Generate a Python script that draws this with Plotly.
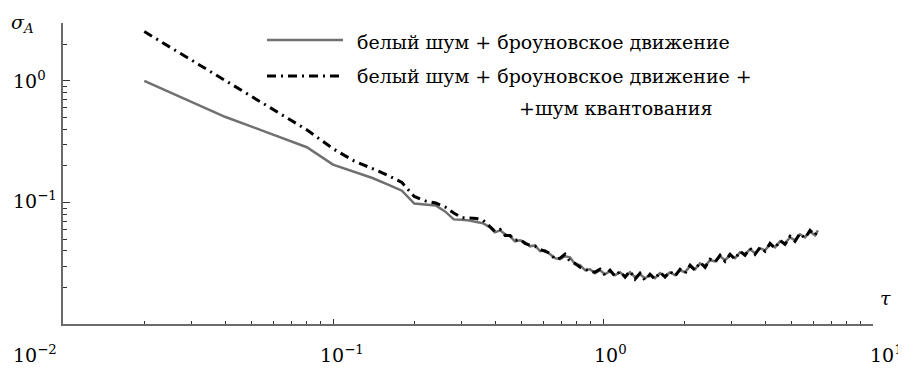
import plotly.graph_objects as go

# ---- data ----
tau_early = [0.02, 0.04, 0.06, 0.08, 0.10, 0.12, 0.14, 0.16, 0.18, 0.20,
             0.22, 0.24, 0.26, 0.28, 0.30, 0.32, 0.34, 0.36]
tau_late = [0.382, 0.398, 0.416, 0.434, 0.453, 0.472, 0.493, 0.514, 0.537, 0.560,
            0.585, 0.610, 0.637, 0.664, 0.693, 0.723, 0.755, 0.788, 0.822, 0.858,
            0.895, 0.934, 0.975, 1.017, 1.062, 1.108, 1.156, 1.207, 1.259, 1.314,
            1.371, 1.431, 1.493, 1.558, 1.626, 1.697, 1.771, 1.848, 1.929, 2.013,
            2.101, 2.192, 2.288, 2.388, 2.492, 2.600, 2.714, 2.832, 2.955, 3.084,
            3.218, 3.358, 3.504, 3.657, 3.816, 3.982, 4.156, 4.337, 4.526, 4.723,
            4.929, 5.142, 5.366, 5.600, 5.844, 6.098, 6.25]

grey_early = [1.0, 0.505, 0.362, 0.285, 0.205, 0.179, 0.159, 0.1405, 0.125, 0.098,
              0.0963, 0.0945, 0.0844, 0.0726, 0.072, 0.0712, 0.0692, 0.0673]
grey_late = [0.0624, 0.0568, 0.0590, 0.0547, 0.0526, 0.0479, 0.0488, 0.0470, 0.0436, 0.0444,
             0.0397, 0.0404, 0.0375, 0.0348, 0.0341, 0.0361, 0.0354, 0.0310, 0.0305, 0.0277,
             0.0282, 0.0262, 0.0277, 0.0257, 0.0272, 0.0252, 0.0267, 0.0247, 0.0267, 0.0243,
             0.0257, 0.0238, 0.0252, 0.0238, 0.0262, 0.0247, 0.0267, 0.0252, 0.0277, 0.0267,
             0.0299, 0.0282, 0.0316, 0.0299, 0.0335, 0.0328, 0.0361, 0.0335, 0.0368, 0.0348,
             0.0389, 0.0375, 0.0412, 0.0382, 0.0420, 0.0404, 0.0452, 0.0428, 0.0479, 0.0461,
             0.0516, 0.0488, 0.0547, 0.0516, 0.0578, 0.0536, 0.0590]

black_early = [2.55, 1.0, 0.580, 0.396, 0.277, 0.219, 0.190, 0.167, 0.146, 0.112,
               0.103, 0.099, 0.0919, 0.0819, 0.075, 0.0746, 0.0738, 0.0712]
black_late = [0.0636, 0.0578, 0.0601, 0.0536, 0.0536, 0.0488, 0.0497, 0.0461, 0.0444, 0.0436,
              0.0412, 0.0397, 0.0382, 0.0341, 0.0348, 0.0375, 0.0328, 0.0316, 0.0293, 0.0282,
              0.0272, 0.0267, 0.0282, 0.0252, 0.0277, 0.0247, 0.0272, 0.0243, 0.0272, 0.0234,
              0.0262, 0.0229, 0.0257, 0.0234, 0.0267, 0.0243, 0.0272, 0.0247, 0.0282, 0.0262,
              0.0305, 0.0277, 0.0322, 0.0293, 0.0341, 0.0322, 0.0368, 0.0328, 0.0375, 0.0341,
              0.0397, 0.0368, 0.0420, 0.0375, 0.0428, 0.0397, 0.0461, 0.0420, 0.0488, 0.0452,
              0.0526, 0.0479, 0.0557, 0.0507, 0.0590, 0.0536, 0.0601]

series_names = ["белый шум + броуновское движение",
                "белый шум + броуновское движение +",
                "+шум квантования"]

x_major = [0.01, 0.1, 1, 10]
x_minor = [m * 10 ** e for e in (-2, -1, 0) for m in range(2, 10)]
y_major = [0.01, 0.1, 1]
y_minor = [m * 10 ** e for e in (-2, -1) for m in range(2, 10)] + [2, 3]

tau = tau_early + tau_late
grey = grey_early + grey_late
black = black_early + black_late

FONT = "DejaVu Serif, Liberation Serif, serif"
GREY = "#707070"
DASH = "9px,5px,2px,5px"

fig = go.Figure()
fig.add_trace(go.Scatter(x=tau, y=grey, mode="lines", name=series_names[0],
                         line=dict(color=GREY, width=2.5), showlegend=False))
fig.add_trace(go.Scatter(x=tau, y=black, mode="lines", name=series_names[1],
                         line=dict(color="black", width=3, dash=DASH), showlegend=False))

# page body has an 8px margin; target plot area in page px: x 63..873, y 23..324
OFF = 8
L, R, T, B = 63, 873, 23, 324
FW, FH = 906 - OFF, 369 - OFF
W, H = R - L, B - T
def px(x):
    return (x - L) / W
def py(y):
    return (B - y) / H

axis_common = dict(showgrid=False, zeroline=False, showline=True, linecolor="#6a6a6a",
                   linewidth=1.5, ticks="inside", tickcolor="#333", tickwidth=1,
                   showticklabels=False)
fig.update_xaxes(type="log", range=[-2, 1], tickvals=x_major, ticklen=5,
                 minor=dict(tickvals=x_minor, ticks="inside", ticklen=3, tickcolor="#333"),
                 **axis_common)
fig.update_yaxes(type="log", range=[-2, 0.4771], tickvals=y_major, ticklen=7,
                 minor=dict(tickvals=y_minor, ticks="inside", ticklen=4, tickcolor="#333"),
                 **axis_common)

ann = []
def text(s, x, y, xanchor="left", size=19, yanchor="middle"):
    ann.append(dict(text=s, x=px(x), y=py(y), xref="paper", yref="paper",
                    xanchor=xanchor, yanchor=yanchor, showarrow=False,
                    font=dict(family=FONT, size=size, color="black")))

# y tick labels
text("10<sup>0</sup>", 11, 80)
text("10<sup>−1</sup>", 11, 200)
# x tick labels
text("10<sup>−2</sup>", 11, 354)
text("10<sup>−1</sup>", 342, 354, "center")
text("10<sup>0</sup>", 610, 354, "center")
text("10<sup>1</sup>", 905, 354, "right")
# axis titles
text("<i>σ</i><sub><i>A</i></sub>", 9, 9, yanchor="top")
text("<i>τ</i>", 878, 298)
# legend
text(series_names[0], 355, 42, size=19)
text(series_names[1], 355, 76, size=19)
text(series_names[2], 517, 108, size=19)

shapes = [
    dict(type="line", xref="paper", yref="paper", x0=px(267), x1=px(343), y0=py(40), y1=py(40),
         line=dict(color=GREY, width=2.5)),
    dict(type="line", xref="paper", yref="paper", x0=px(267), x1=px(343), y0=py(76), y1=py(76),
         line=dict(color="black", width=3, dash=DASH)),
]

fig.update_layout(width=FW, height=FH,
                  margin=dict(l=L - OFF, r=906 - R, t=T - OFF, b=369 - B, pad=0),
                  paper_bgcolor="white", plot_bgcolor="white",
                  annotations=ann, shapes=shapes, showlegend=False,
                  font=dict(family=FONT, color="black"))
fig.write_html("out.html")
